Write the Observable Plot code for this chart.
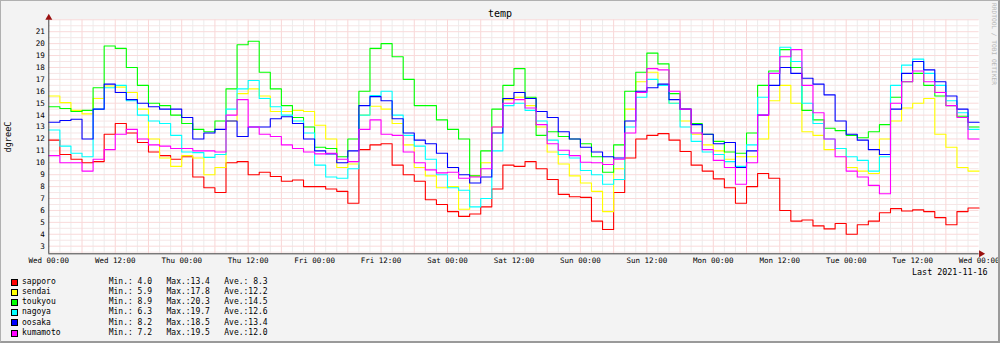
<!DOCTYPE html>
<html><head><meta charset="utf-8">
<script src="https://cdn.jsdelivr.net/npm/d3@7"></script>
<script src="https://cdn.jsdelivr.net/npm/@observablehq/plot@0.6"></script>
<style>
html,body{margin:0;padding:0;background:#f3f3f3;}
#wrap{position:relative;width:1000px;height:343px;background:#f3f3f3;overflow:hidden;font-family:"DejaVu Sans Mono",monospace;color:#000;}
#wrap svg{position:absolute;left:0;top:0;}
.t{position:absolute;white-space:pre;line-height:1;}
#frame{position:absolute;left:0;top:0;width:997px;height:340px;border:1px solid #b0b0b0;border-right:2px solid #9a9a9a;border-bottom:2px solid #9a9a9a;pointer-events:none;}
</style></head><body><div id="wrap"><div id="frame"></div></div>
<script>
// ---- data (2-hour steps, Wed 2021-11-10 00:00 .. Wed 2021-11-17 00:00) ----
const seriesNames = ["sapporo","sendai","toukyou","nagoya","oosaka","kumamoto"];
const seriesColors = ["#ff0000","#ffff00","#00ff00","#00ffff","#0000ff","#ff00ff"];
const sapporo = [11.9,10.7,10.3,10.0,10.1,12.4,13.3,12.5,11.7,10.9,10.6,10.3,
 10.5,8.8,7.9,7.5,10.0,10.1,9.0,9.2,8.85,8.45,8.55,8.0,
 8.0,7.8,7.6,6.6,11.1,11.5,11.6,9.8,9.0,8.45,6.9,6.5,
 5.9,5.5,5.7,6.3,7.8,9.8,9.7,10.1,9.5,8.6,7.35,7.15,
 7.1,5.1,4.4,7.5,10.4,12.0,12.3,12.45,11.9,10.95,9.8,9.3,
 8.65,7.9,6.6,8.0,9.1,8.7,6.0,5.1,5.2,4.7,4.45,4.9,
 4.0,4.8,5.1,5.8,6.15,5.95,6.05,5.9,5.4,4.8,5.9,6.2];
const sendai = [15.6,15.05,14.4,14.1,15.4,16.45,16.35,15.9,14.5,12.0,10.4,9.7,
 10.6,10.4,9.0,9.6,13.5,15.8,16.2,15.6,14.3,14.3,14.4,14.3,
 13.15,12.0,9.6,9.9,14.0,14.75,14.5,13.3,11.5,9.6,8.9,7.9,
 8.0,6.1,8.9,10.0,13.0,15.3,15.5,14.8,13.0,10.9,9.9,8.9,
 8.3,7.6,5.9,9.5,14.5,16.8,17.6,16.5,15.0,13.5,12.4,11.5,
 11.0,10.3,10.5,10.5,12.0,15.2,16.5,15.0,12.6,12.3,11.1,11.2,
 9.6,9.3,9.1,12.0,13.5,14.6,15.0,15.4,12.4,11.3,9.6,9.3];
const toukyou = [14.7,14.55,14.3,14.4,16.3,19.8,19.6,18.0,16.5,15.0,14.8,14.0,
 13.3,12.8,12.6,13.5,16.2,19.9,20.2,17.6,16.2,14.8,13.8,13.0,
 11.3,11.2,10.5,12.0,16.0,19.6,20.0,18.9,17.0,14.8,14.8,13.6,
 12.8,12.0,8.9,11.0,14.5,16.5,17.9,15.5,12.3,12.6,12.2,12.0,
 11.6,10.5,9.2,11.5,16.0,17.6,19.2,18.3,15.8,14.5,13.3,12.4,
 11.8,10.9,10.8,12.5,16.5,17.7,19.5,18.0,14.4,13.6,12.9,12.7,
 12.3,12.1,12.6,13.2,15.5,16.8,17.5,16.5,15.6,14.8,13.9,13.0];
const nagoya = [12.75,11.4,10.8,10.5,14.5,16.3,16.5,15.2,14.0,13.5,13.3,12.3,
 10.9,10.85,10.45,10.7,14.5,16.2,16.9,15.4,14.7,14.0,13.5,12.5,
 9.8,8.8,8.7,9.5,14.0,15.65,16.0,14.0,12.3,11.4,10.3,9.0,
 7.9,7.7,6.3,7.0,11.0,14.8,15.0,14.4,13.5,11.9,10.7,10.4,
 9.35,9.0,8.2,8.6,13.0,15.5,17.0,16.5,15.0,13.0,11.8,10.9,
 10.7,10.1,9.7,11.5,15.5,17.5,19.7,18.5,15.0,13.3,12.0,11.2,
 10.5,10.2,9.3,10.5,16.5,18.2,18.7,17.5,16.5,15.2,14.2,12.8];
const oosaka = [13.4,13.55,13.65,12.0,14.5,16.6,15.9,15.3,15.0,14.7,14.5,14.5,
 13.8,12.0,12.5,12.8,13.5,12.2,13.0,13.0,13.7,13.86,13.3,12.0,
 11.0,10.75,10.0,11.0,14.8,15.55,15.2,13.7,12.5,11.9,11.6,10.8,
 9.6,9.0,8.3,8.8,12.5,15.4,15.9,15.4,14.3,13.8,12.6,12.0,
 11.3,10.9,10.5,10.4,13.5,16.0,16.3,16.6,15.3,14.5,13.2,12.4,
 11.6,11.7,9.6,11.0,14.0,16.5,18.0,17.5,17.1,16.6,15.7,13.5,
 12.4,11.9,11.1,10.7,14.5,17.5,18.5,17.8,16.8,15.6,14.5,13.4];
const kumamoto = [10.6,10.0,10.0,9.3,10.3,11.1,12.4,12.8,12.0,11.5,11.4,11.2,
 11.2,11.0,11.0,10.9,14.0,15.3,13.0,12.4,12.2,11.5,11.2,10.9,
 10.75,10.8,10.3,10.1,12.8,13.6,12.4,12.3,10.9,10.0,9.4,9.15,
 9.2,8.7,8.8,9.5,13.0,15.0,15.3,14.6,13.2,11.6,11.05,10.6,
 10.05,10.0,9.85,10.3,12.5,15.9,17.9,17.8,16.0,14.5,12.5,11.1,
 10.2,9.6,8.2,10.0,14.0,17.5,18.9,19.5,16.5,14.2,12.0,10.5,
 9.3,8.8,8.1,7.4,15.0,16.8,17.7,16.8,15.9,14.8,13.8,12.0];
const seriesValues = [sapporo, sendai, toukyou, nagoya, oosaka, kumamoto];
const statMin = ["4.0","5.9","8.9","6.3","8.2","7.2"];
const statMax = ["13.4","17.8","20.3","19.7","18.5","19.5"];
const statAve = ["8.3","12.2","14.5","12.6","13.4","12.0"];
const xTickLabels = ["Wed 00:00","Wed 12:00","Thu 00:00","Thu 12:00","Fri 00:00","Fri 12:00",
 "Sat 00:00","Sat 12:00","Sun 00:00","Sun 12:00","Mon 00:00","Mon 12:00","Tue 00:00","Tue 12:00","Wed 00:00"];
const yTicks = [3,4,5,6,7,8,9,10,11,12,13,14,15,16,17,18,19,20,21];
const yDomain = [2.36, 22.0];
const titleText = "temp";
const yLabel = "dgreeC";
const lastText = "Last 2021-11-16";
const watermark = "RRDTOOL / TOBI OETIKER";

// ---- build ----
const HR = 3600e3;
const start = Date.UTC(2021, 10, 10);
const end = start + 168 * HR;
const rows = [];
seriesNames.forEach((name, s) => {
  const vals = seriesValues[s];
  vals.forEach((v, k) => rows.push({name, t: new Date(start + 2 * k * HR), v}));
  rows.push({name, t: new Date(end), v: vals[vals.length - 1]});
});
const labelTicks = xTickLabels.map((_, i) => new Date(start + i * 12 * HR));
const labelMap = new Map(labelTicks.map((d, i) => [+d, xTickLabels[i]]));
const minorX = d3.range(2, 168, 2).filter(h => h % 6 !== 0).map(h => new Date(start + h * HR));
const majorX = d3.range(6, 168, 6).map(h => new Date(start + h * HR));
const minorY = d3.range(2.5, 22, 1);
const majorY = d3.range(3, 23, 1);

const chart = Plot.plot({
  width: 1000, height: 343,
  marginLeft: 48.3, marginRight: 21.4, marginTop: 19.3, marginBottom: 89.7,
  style: {background: "transparent", fontFamily: "'DejaVu Sans Mono', monospace", fontSize: "7.5px", color: "#000", overflow: "visible"},
  x: {type: "utc", domain: [new Date(start), new Date(end)], axis: null},
  y: {domain: yDomain, axis: null},
  color: {domain: seriesNames, range: seriesColors},
  marks: [
    Plot.frame({fill: "#ffffff", stroke: null}),
    Plot.ruleX(minorX, {stroke: "#ececec"}),
    Plot.ruleY(minorY, {stroke: "#f6e6e6"}),
    Plot.ruleX(majorX, {stroke: "#f9d6d6"}),
    Plot.ruleY(majorY, {stroke: "#f9dada"}),
    Plot.line(rows, {x: "t", y: "v", z: "name", stroke: "name", curve: "step-after", strokeWidth: 1.1}),
    Plot.ruleX([new Date(start)], {stroke: "#404040"}),
    Plot.ruleY([yDomain[0]], {stroke: "#404040"}),
    Plot.axisY({ticks: yTicks, tickSize: 0, tickPadding: 4, fontSize: 7.6, label: null}),
    Plot.axisX({ticks: labelTicks, tickSize: 0, tickPadding: 4, label: null, tickFormat: d => labelMap.get(+d)}),
    Plot.dot([0], {frameAnchor: "top-left", dy: -2, symbol: "triangle", r: 2.6, fill: "#9a1010", stroke: null}),
    Plot.dot([0], {frameAnchor: "bottom-right", dx: 2, rotate: 90, symbol: "triangle", r: 2.6, fill: "#9a1010", stroke: null})
  ]
});
const wrap = document.getElementById("wrap");
wrap.insertBefore(chart, wrap.firstChild);

function addText(txt, css) {
  const d = document.createElement("div");
  d.className = "t";
  d.textContent = txt;
  Object.assign(d.style, css);
  wrap.appendChild(d);
  return d;
}
addText(titleText, {left: "0px", width: "1000px", textAlign: "center", top: "9px", fontSize: "10px"});
addText(yLabel, {left: "8px", top: "137px", fontSize: "8.6px", transform: "translate(-50%,-50%) rotate(-90deg)"});
addText(watermark, {left: "994px", top: "44px", fontSize: "6.2px", color: "#b8b8b8", transform: "translate(-50%,-50%) rotate(90deg)"});
addText(lastText, {left: "912px", top: "268px", fontSize: "8.4px"});
seriesNames.forEach((name, i) => {
  const cy = 282.3 + i * 10.15;
  const sq = document.createElement("div");
  Object.assign(sq.style, {position: "absolute", left: "11px", top: (cy - 3.5) + "px", width: "5px", height: "5px",
    border: "1px solid #000", background: seriesColors[i]});
  wrap.appendChild(sq);
  const line = name.padEnd(18) + "Min.:" + statMin[i].padStart(4) + "   Max.:" + statMax[i].padStart(4) + "   Ave.:" + statAve[i].padStart(4);
  addText(line, {left: "22px", top: (cy - 4.3) + "px", fontSize: "8px"});
});
</script></body></html>
